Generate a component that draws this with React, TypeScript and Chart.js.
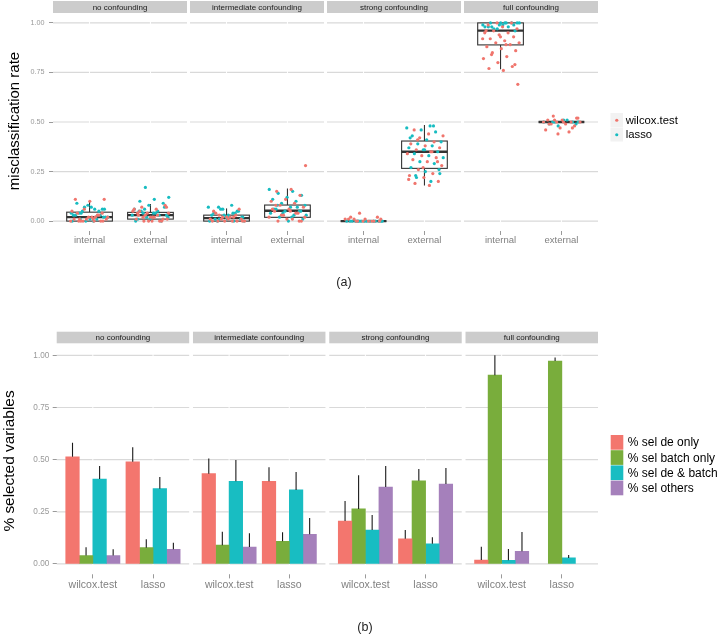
import React, { useEffect, useRef } from "react";
import { Chart, registerables } from "chart.js";

Chart.register(...registerables);

const FONT = "'Liberation Sans', Arial, Helvetica, sans-serif";

// ---------- shared categories ----------
const facetNames = ["no confounding", "intermediate confounding", "strong confounding", "full confounding"];
const validationTypes = ["internal", "external"];
const methodNames = ["wilcox.test", "lasso"];
const selectionTypes = ["% sel de only", "% sel batch only", "% sel de & batch", "% sel others"];
const yTickValues = [0, 0.25, 0.5, 0.75, 1];

// ---------- panel (a): box statistics (facet-major: int, ext per facet) ----------
const boxLow = [0, 0, 0, 0, 0, 0.18, 0.766, 0.5];
const boxQ1 = [0, 0.01, 0, 0.019, 0, 0.266, 0.889, 0.5];
const boxMedian = [0.02, 0.03, 0.015, 0.052, 0, 0.35, 0.961, 0.5];
const boxQ3 = [0.045, 0.044, 0.03, 0.081, 0, 0.404, 1.0, 0.5];
const boxHigh = [0.1, 0.086, 0.064, 0.165, 0, 0.485, 1.0, 0.5];

// ---------- panel (a): misclassification rates per run ----------
const wilcoxNoInt = [0, 0, 0.01, 0, 0.02, 0.01, 0.03, 0, 0.01, 0.02, 0.04, 0, 0.01, 0.05, 0.02, 0, 0.11, 0.1, 0.11, 0.03, 0.06, 0.02, 0.01, 0, 0.04];
const lassoNoInt = [0, 0.02, 0.04, 0.06, 0.01, 0.03, 0.05, 0.07, 0.02, 0, 0.04, 0.06, 0.08, 0.03, 0.01, 0.05, 0.02, 0.07, 0.09, 0.03, 0, 0.04, 0.06, 0.01, 0.02];
const wilcoxNoExt = [0, 0.01, 0.02, 0.03, 0, 0.04, 0.05, 0.06, 0.07, 0.08, 0.02, 0.01, 0, 0.03, 0.04, 0.02, 0.05, 0.01, 0, 0.06, 0.03, 0.02, 0.07, 0, 0.04];
const lassoNoExt = [0.17, 0.12, 0.11, 0.1, 0.09, 0.08, 0.06, 0.05, 0.04, 0.03, 0.02, 0.01, 0, 0.02, 0.03, 0.04, 0.05, 0.07, 0.01, 0, 0.03, 0.06, 0.02, 0.04, 0.05];
const wilcoxMidInt = [0, 0, 0.01, 0.02, 0, 0.03, 0.01, 0, 0.02, 0.04, 0.06, 0, 0.01, 0.02, 0.03, 0, 0.01, 0.05, 0, 0.02];
const lassoMidInt = [0, 0.01, 0.02, 0.03, 0.04, 0.05, 0.06, 0.07, 0.08, 0, 0.01, 0.02, 0.03, 0.04, 0.06, 0, 0.02, 0.01, 0.05, 0.03, 0, 0.04, 0.07, 0.02, 0.01];
const wilcoxMidExt = [0.28, 0.16, 0.15, 0.13, 0.11, 0.1, 0.09, 0.08, 0.07, 0.06, 0.05, 0.04, 0.03, 0.02, 0.01, 0, 0, 0.01, 0.06, 0.04, 0.03, 0.02, 0.05, 0.08, 0];
const lassoMidExt = [0.16, 0.15, 0.14, 0.13, 0.12, 0.11, 0.1, 0.09, 0.08, 0.07, 0.06, 0.05, 0.05, 0.04, 0.03, 0.02, 0.01, 0, 0.06, 0.07, 0.04, 0.03, 0.02, 0.08, 0.05];
const wilcoxStrongInt = [0, 0, 0.01, 0.02, 0, 0.04, 0.01, 0, 0.01, 0.02, 0, 0.01, 0, 0, 0.01];
const lassoStrongInt = [0, 0, 0, 0, 0, 0, 0, 0, 0, 0, 0, 0, 0, 0, 0];
const wilcoxStrongExt = [0.18, 0.19, 0.2, 0.22, 0.23, 0.24, 0.26, 0.28, 0.3, 0.31, 0.32, 0.33, 0.34, 0.35, 0.36, 0.37, 0.38, 0.39, 0.4, 0.42, 0.43, 0.44, 0.46, 0.3, 0.27, 0.21, 0.35, 0.41];
const lassoStrongExt = [0.2, 0.22, 0.24, 0.25, 0.27, 0.29, 0.3, 0.32, 0.33, 0.34, 0.35, 0.36, 0.37, 0.38, 0.39, 0.4, 0.41, 0.43, 0.45, 0.46, 0.47, 0.48, 0.23, 0.26, 0.36, 0.42, 0.48];
const wilcoxFullInt = [0.69, 0.76, 0.77, 0.78, 0.8, 0.82, 0.83, 0.85, 0.86, 0.87, 0.88, 0.89, 0.9, 0.9, 0.91, 0.92, 0.93, 0.94, 0.95, 0.95, 0.96, 0.97, 0.98, 0.99, 1.0, 1.0, 0.92, 0.89, 0.84, 0.79, 0.93, 0.96];
const lassoFullInt = [1.0, 1.0, 1.0, 0.99, 0.99, 0.98, 0.98, 0.97, 1.0, 0.99, 0.98, 1.0, 0.97, 0.99, 1.0, 0.98, 0.96, 1.0];
const wilcoxFullExt = [0.53, 0.52, 0.51, 0.51, 0.5, 0.5, 0.5, 0.49, 0.49, 0.48, 0.47, 0.46, 0.45, 0.51, 0.52, 0.5, 0.49, 0.47, 0.44, 0.5];
const lassoFullExt = [0.5, 0.5, 0.51, 0.49, 0.5, 0.48, 0.5, 0.51, 0.5, 0.49];

// ---------- panel (b): mean share of selected variables and upper error ----------
// order: (no: wilcox, lasso), (intermediate: wilcox, lasso), (strong: ...), (full: ...)
const selDeOnly = [0.514, 0.49, 0.433, 0.396, 0.206, 0.121, 0.019, 0];
const selDeOnlyErr = [0.581, 0.559, 0.505, 0.463, 0.302, 0.163, 0.083, 0];
const selBatchOnly = [0.04, 0.078, 0.09, 0.109, 0.264, 0.399, 0.905, 0.973];
const selBatchOnlyErr = [0.08, 0.118, 0.155, 0.152, 0.425, 0.455, 1.0, 0.99];
const selDeBatch = [0.407, 0.361, 0.396, 0.355, 0.163, 0.097, 0.018, 0.029];
const selDeBatchErr = [0.47, 0.417, 0.498, 0.441, 0.235, 0.128, 0.072, 0.043];
const selOthers = [0.04, 0.07, 0.081, 0.142, 0.369, 0.383, 0.061, 0];
const selOthersErr = [0.07, 0.102, 0.147, 0.22, 0.47, 0.46, 0.153, 0];

const pointColors = ["#F0756D", "#17BCC1"];
const barColors = ["#F3766E", "#79AD3C", "#18BDC2", "#A580BB"];

// ---------- facet geometry helpers (units of the linear x scale) ----------
const FACET_SPAN = 2.2;
const facetStart = (k: number, gap: number) => k * (FACET_SPAN + gap);
const catCenter = (k: number, j: number, gap: number) => facetStart(k, gap) + 0.6 + j;
const jitter = (i: number, seed: number) => ((((i + seed) * 0.6180339887) % 1) - 0.5) * 0.62;

const GAP_A = 0.049;
const GAP_B = 0.063;

const wilcoxSets = [wilcoxNoInt, wilcoxNoExt, wilcoxMidInt, wilcoxMidExt, wilcoxStrongInt, wilcoxStrongExt, wilcoxFullInt, wilcoxFullExt];
const lassoSets = [lassoNoInt, lassoNoExt, lassoMidInt, lassoMidExt, lassoStrongInt, lassoStrongExt, lassoFullInt, lassoFullExt];

const toPoints = (sets: number[][], seed: number) =>
  sets.flatMap((vals, b) =>
    vals.map((v, i) => ({ x: catCenter(Math.floor(b / 2), b % 2, GAP_A) + jitter(i, seed + b * 7), y: v }))
  );

const barValues = [selDeOnly, selBatchOnly, selDeBatch, selOthers];
const barErrors = [selDeOnlyErr, selBatchOnlyErr, selDeBatchErr, selOthersErr];

// ---------- plugins ----------
const facetFrame = {
  id: "facetFrame",
  beforeDatasetsDraw(chart: any, _a: any, o: any) {
    const { ctx, chartArea } = chart;
    const x = chart.scales.x;
    const y = chart.scales.y;
    ctx.save();
    for (let k = 0; k < facetNames.length; k++) {
      const l = x.getPixelForValue(facetStart(k, o.gap));
      const r = x.getPixelForValue(facetStart(k, o.gap) + FACET_SPAN);
      ctx.strokeStyle = "#d9d9d9";
      ctx.lineWidth = 1.2;
      for (const t of yTickValues) {
        const py = y.getPixelForValue(t);
        ctx.beginPath();
        ctx.moveTo(l, py);
        ctx.lineTo(r, py);
        ctx.stroke();
      }
      ctx.strokeStyle = "#ffffff";
      ctx.lineWidth = 1;
      for (let j = 0; j < validationTypes.length; j++) {
        const px = x.getPixelForValue(catCenter(k, j, o.gap));
        ctx.beginPath();
        ctx.moveTo(px, chartArea.top);
        ctx.lineTo(px, chartArea.bottom);
        ctx.stroke();
      }
      ctx.fillStyle = "#cccccc";
      ctx.fillRect(l, o.stripTop, r - l, o.stripHeight);
      ctx.fillStyle = "#1a1a1a";
      ctx.font = `${o.stripFont}px ${FONT}`;
      ctx.textAlign = "center";
      ctx.textBaseline = "middle";
      ctx.fillText(facetNames[k], (l + r) / 2, o.stripTop + o.stripHeight / 2 + 0.5);
    }
    ctx.restore();
  },
};

const boxPlot = {
  id: "boxPlot",
  beforeDatasetsDraw(chart: any, _a: any, o: any) {
    if (!o.enabled) return;
    const { ctx } = chart;
    const x = chart.scales.x;
    const y = chart.scales.y;
    const half = x.getPixelForValue(0.375) - x.getPixelForValue(0);
    ctx.save();
    ctx.strokeStyle = "#333333";
    for (let b = 0; b < boxMedian.length; b++) {
      const cx = x.getPixelForValue(catCenter(Math.floor(b / 2), b % 2, GAP_A));
      const yLow = y.getPixelForValue(boxLow[b]);
      const yQ1 = y.getPixelForValue(boxQ1[b]);
      const yMed = y.getPixelForValue(boxMedian[b]);
      const yQ3 = y.getPixelForValue(boxQ3[b]);
      const yHigh = y.getPixelForValue(boxHigh[b]);
      ctx.lineWidth = 1.1;
      ctx.beginPath();
      ctx.moveTo(cx, yHigh);
      ctx.lineTo(cx, yQ3);
      ctx.moveTo(cx, yQ1);
      ctx.lineTo(cx, yLow);
      ctx.stroke();
      ctx.fillStyle = "#ffffff";
      ctx.fillRect(cx - half, yQ3, 2 * half, yQ1 - yQ3);
      ctx.strokeRect(cx - half, yQ3, 2 * half, yQ1 - yQ3);
      ctx.lineWidth = 2.4;
      ctx.beginPath();
      ctx.moveTo(cx - half, yMed);
      ctx.lineTo(cx + half, yMed);
      ctx.stroke();
    }
    ctx.restore();
  },
};

const errorBars = {
  id: "errorBars",
  afterDatasetsDraw(chart: any, _a: any, o: any) {
    if (!o.enabled) return;
    const { ctx } = chart;
    const y = chart.scales.y;
    ctx.save();
    ctx.strokeStyle = "#1a1a1a";
    ctx.lineWidth = 1.1;
    barErrors.forEach((errs, di) => {
      const meta = chart.getDatasetMeta(di);
      meta.data.forEach((el: any, i: number) => {
        if (!(errs[i] > barValues[di][i])) return;
        ctx.beginPath();
        ctx.moveTo(el.x, y.getPixelForValue(barValues[di][i]));
        ctx.lineTo(el.x, y.getPixelForValue(errs[i]));
        ctx.stroke();
      });
    });
    ctx.restore();
  },
};

const decorations = {
  id: "decorations",
  afterDraw(chart: any, _a: any, o: any) {
    const { ctx } = chart;
    ctx.save();
    // axis title
    ctx.translate(o.titleX, o.titleY);
    ctx.rotate(-Math.PI / 2);
    ctx.fillStyle = "#000000";
    ctx.font = `${o.titleSize}px ${FONT}`;
    ctx.textAlign = "center";
    ctx.textBaseline = "middle";
    ctx.fillText(o.title, 0, 0);
    ctx.setTransform(1, 0, 0, 1, 0, 0);
    // caption
    ctx.font = `${o.captionSize}px ${FONT}`;
    ctx.fillStyle = "#222222";
    ctx.fillText(o.caption, o.captionX, o.captionY);
    // legend
    const lg = o.legend;
    lg.labels.forEach((lab: string, i: number) => {
      const ty = lg.y0 + i * lg.h;
      if (lg.kind === "points") {
        ctx.fillStyle = "#f2f2f2";
        ctx.fillRect(lg.x, ty, lg.w, lg.h - 0.5);
        ctx.fillStyle = lg.colors[i];
        ctx.beginPath();
        ctx.arc(lg.x + lg.w / 2, ty + lg.h / 2, 1.6, 0, Math.PI * 2);
        ctx.fill();
      } else {
        ctx.fillStyle = lg.colors[i];
        ctx.fillRect(lg.x, ty, lg.w, lg.h - 0.5);
      }
      ctx.fillStyle = "#000000";
      ctx.font = `${lg.fontSize}px ${FONT}`;
      ctx.textAlign = "left";
      ctx.textBaseline = "middle";
      ctx.fillText(lab, lg.textX, ty + lg.h / 2 + 0.5);
    });
    ctx.restore();
  },
};

// ---------- configs ----------
function makeTopConfig(): any {
  return {
    type: "scatter",
    data: {
      datasets: [
        { label: methodNames[0], data: toPoints(wilcoxSets, 0), backgroundColor: pointColors[0], pointRadius: 1.6, pointBorderWidth: 0 },
        { label: methodNames[1], data: toPoints(lassoSets, 3.3), backgroundColor: pointColors[1], pointRadius: 1.6, pointBorderWidth: 0 },
      ],
    },
    options: {
      animation: false,
      responsive: false,
      devicePixelRatio: 1,
      layout: { padding: { left: 0, right: 122, top: 13, bottom: 47 } },
      plugins: {
        legend: { display: false },
        tooltip: { enabled: false },
        facetFrame: { gap: GAP_A, stripTop: 1, stripHeight: 12, stripFont: 8 },
        boxPlot: { enabled: true },
        errorBars: { enabled: false },
        decorations: {
          title: "misclassification rate", titleX: 14.5, titleY: 121, titleSize: 15,
          caption: "(a)", captionX: 344, captionY: 282.5, captionSize: 12.5,
          legend: { kind: "points", labels: methodNames, colors: pointColors, x: 610.5, y0: 113, w: 12.5, h: 14.5, textX: 625.7, fontSize: 11.3 },
        },
      },
      scales: {
        x: {
          type: "linear", bounds: "data", min: 0, max: 4 * FACET_SPAN + 3 * GAP_A, offset: false,
          afterBuildTicks: (s: any) => {
            s.ticks = facetNames.flatMap((_f, k) => validationTypes.map((_v, j) => ({ value: catCenter(k, j, GAP_A) })));
          },
          afterFit: (s: any) => { s.height = 22; },
          grid: { drawOnChartArea: false, drawTicks: true, tickLength: 4, color: "#9a9a9a", offset: false },
          border: { display: false },
          ticks: { autoSkip: false, maxRotation: 0, padding: 0, color: "#808080", font: { size: 9.5, family: FONT },
            callback: (_v: any, i: number) => validationTypes[i % 2] },
        },
        y: {
          type: "linear", bounds: "data", min: -0.05, max: 1.05,
          afterBuildTicks: (s: any) => { s.ticks = yTickValues.map((v) => ({ value: v })); },
          afterFit: (s: any) => { s.width = 53; },
          grid: { drawOnChartArea: false, drawTicks: true, tickLength: 4, color: "#9a9a9a" },
          border: { display: false },
          ticks: { padding: 4.5, color: "#999999", font: { size: 7.2, family: FONT }, callback: (v: any) => Number(v).toFixed(2) },
        },
      },
    },
    plugins: [facetFrame, boxPlot, errorBars, decorations],
  };
}

function makeBottomConfig(): any {
  const datasets = selectionTypes.map((name, s) => ({
    label: name,
    data: barValues[s].map((v, g) => ({
      x: catCenter(Math.floor(g / 2), g % 2, GAP_B) + (s - 1.5) * 0.225,
      y: v > 0 ? v : null,
    })),
    backgroundColor: barColors[s],
    borderWidth: 0,
    grouped: false,
    barPercentage: 1,
    categoryPercentage: 1,
  }));
  return {
    type: "bar",
    data: { datasets },
    options: {
      animation: false,
      responsive: false,
      devicePixelRatio: 1,
      layout: { padding: { left: 0, right: 122, top: 44.9, bottom: 38.6 } },
      plugins: {
        legend: { display: false },
        tooltip: { enabled: false },
        facetFrame: { gap: GAP_B, stripTop: 31.7, stripHeight: 11.6, stripFont: 8 },
        boxPlot: { enabled: false },
        errorBars: { enabled: true },
        decorations: {
          title: "% selected variables", titleX: 10, titleY: 161, titleSize: 15.4,
          caption: "(b)", captionX: 365, captionY: 328, captionSize: 12.5,
          legend: { kind: "bars", labels: selectionTypes, colors: barColors, x: 610.7, y0: 135, w: 12.6, h: 15.2, textX: 627.7, fontSize: 12 },
        },
      },
      scales: {
        x: {
          type: "linear", bounds: "data", min: 0, max: 4 * FACET_SPAN + 3 * GAP_B, offset: false,
          afterBuildTicks: (s: any) => {
            s.ticks = facetNames.flatMap((_f, k) => methodNames.map((_m, j) => ({ value: catCenter(k, j, GAP_B) })));
          },
          afterFit: (s: any) => { s.height = 22; },
          grid: { drawOnChartArea: false, drawTicks: true, tickLength: 4, color: "#9a9a9a", offset: false },
          border: { display: false },
          ticks: { autoSkip: false, maxRotation: 0, padding: 0.5, color: "#808080", font: { size: 10.5, family: FONT },
            callback: (_v: any, i: number) => methodNames[i % 2] },
        },
        y: {
          type: "linear", bounds: "data", min: -0.05, max: 1.05, beginAtZero: false,
          afterBuildTicks: (s: any) => { s.ticks = yTickValues.map((v) => ({ value: v })); },
          afterFit: (s: any) => { s.width = 56.7; },
          grid: { drawOnChartArea: false, drawTicks: true, tickLength: 4, color: "#9a9a9a" },
          border: { display: false },
          ticks: { padding: 3.4, color: "#999999", font: { size: 8.2, family: FONT }, callback: (v: any) => Number(v).toFixed(2) },
        },
      },
    },
    plugins: [facetFrame, boxPlot, errorBars, decorations],
  };
}

function ChartCanvas(props: { make: () => any; top: number; height: number }) {
  const ref = useRef<HTMLCanvasElement>(null);
  useEffect(() => {
    const chart = new Chart(ref.current as HTMLCanvasElement, props.make());
    return () => chart.destroy();
  }, []);
  return (
    <canvas
      ref={ref}
      width={720}
      height={props.height}
      style={{ position: "absolute", left: 0, top: props.top, width: 720, height: props.height, display: "block" }}
    />
  );
}

export default function App() {
  return (
    <div style={{ position: "absolute", left: 0, top: 0, width: 720, height: 635, background: "#ffffff", overflow: "hidden" }}>
      <ChartCanvas make={makeTopConfig} top={0} height={300} />
      <ChartCanvas make={makeBottomConfig} top={300} height={335} />
    </div>
  );
}
